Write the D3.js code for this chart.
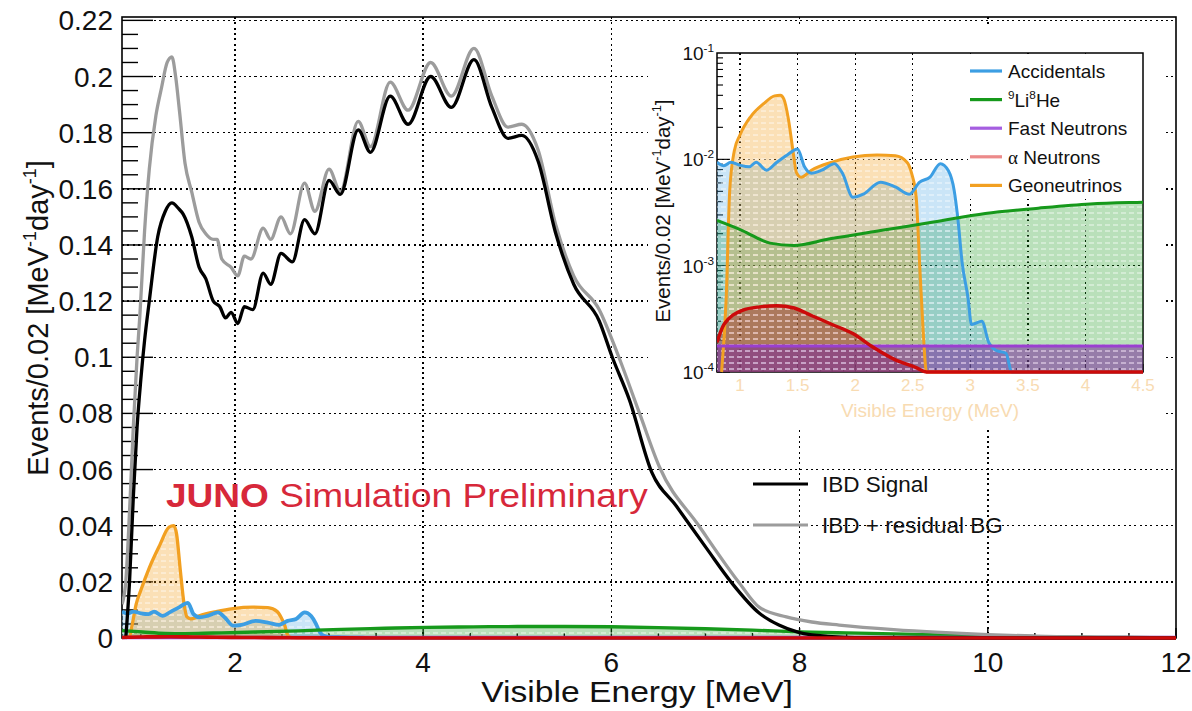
<!DOCTYPE html>
<html><head><meta charset="utf-8">
<script src="https://cdnjs.cloudflare.com/ajax/libs/d3/7.8.5/d3.min.js"></script>
<style>
body{margin:0;background:#fff}
svg{display:block}
text{font-family:"Liberation Sans",Arial,Helvetica,sans-serif;fill:#111}
</style>
</head><body>
<svg id="c" width="1192" height="711"></svg>
<script>
// ---------------- DATA ----------------
const ibdE = [0.84,0.88,0.92,0.96,1.00,1.04,1.09,1.18,1.26,1.33,1.40,1.45,1.54,1.62,1.69,1.77,1.84,1.90,1.96,2.03,2.10,2.19,2.30,2.38,2.49,2.61,2.74,2.85,3.00,3.12,3.31,3.44,3.65,3.84,4.08,4.30,4.54,4.73,4.90,5.05,5.22,5.41,5.60,5.87,6.01,6.19,6.43,6.69,7.01,7.28,7.57,7.78,7.99,8.3,8.7,9.5,12];
const ibdV = [0,0.02,0.05,0.075,0.092,0.106,0.120,0.143,0.152,0.155,0.153,0.151,0.143,0.132,0.128,0.120,0.118,0.114,0.116,0.112,0.118,0.117,0.130,0.126,0.137,0.134,0.149,0.144,0.163,0.158,0.181,0.173,0.193,0.183,0.200,0.189,0.206,0.189,0.178,0.179,0.170,0.144,0.126,0.113,0.100,0.085,0.059,0.047,0.032,0.0196,0.0089,0.0046,0.002,0.0006,0.0001,0,0];

const totE = [0.80,0.84,0.88,0.92,0.96,0.99,1.04,1.09,1.16,1.22,1.28,1.33,1.37,1.41,1.47,1.54,1.62,1.69,1.77,1.81,1.86,1.96,2.03,2.10,2.17,2.30,2.38,2.49,2.59,2.74,2.85,3.00,3.12,3.31,3.44,3.65,3.84,4.08,4.30,4.54,4.73,4.90,5.05,5.22,5.41,5.60,5.87,6.08,6.30,6.51,6.93,7.36,7.57,7.86,8.13,8.42,9.0,9.5,10.0,10.5,11.0,12.0];
const totV = [0.012,0.02,0.045,0.075,0.100,0.115,0.145,0.167,0.186,0.196,0.205,0.207,0.200,0.188,0.169,0.159,0.148,0.144,0.142,0.142,0.135,0.132,0.129,0.136,0.135,0.146,0.142,0.150,0.144,0.162,0.152,0.167,0.159,0.184,0.175,0.198,0.188,0.205,0.193,0.210,0.193,0.182,0.183,0.174,0.147,0.129,0.117,0.100,0.080,0.061,0.040,0.0196,0.011,0.0075,0.0057,0.0046,0.003,0.002,0.0012,0.0007,0.0003,0.0001];

const accE = [0.80,0.86,0.92,1.00,1.08,1.14,1.23,1.32,1.41,1.50,1.56,1.62,1.71,1.82,1.89,1.98,2.07,2.22,2.35,2.47,2.56,2.65,2.74,2.81,2.86,2.89,2.93,2.98,3.01,3.10,3.16,3.22,3.31,3.36,3.45,4.0,12];
const accV = [0.0094,0.0087,0.0094,0.0088,0.0085,0.0094,0.0079,0.0094,0.011,0.0125,0.0085,0.0074,0.0079,0.0091,0.0074,0.0044,0.0047,0.0061,0.0055,0.0047,0.0061,0.0068,0.0091,0.0078,0.0051,0.0029,0.00105,0.0005,0.00028,0.0003,0.00019,0.00016,0.00015,0.0001,0.00003,0.00001,0.000001];

const lihE = [0.8,1.02,1.26,1.47,1.77,2.22,2.68,3.13,3.59,4.04,4.53,5.0,5.5,6.0,6.5,7.0,7.5,8.0,8.5,9.0,9.5,10,10.5,11,11.5,12];
const lihV = [0.00266,0.00214,0.00163,0.00155,0.00178,0.00214,0.00257,0.0031,0.00347,0.0038,0.00396,0.0041,0.0041,0.0040,0.0037,0.0033,0.0028,0.0022,0.0018,0.0015,0.0011,0.0008,0.0005,0.0003,0.0002,0.0001];

const fastE = [0.8,12];
const fastV = [0.000176,0.000176];

const alphaE = [0.8,0.86,1.02,1.17,1.32,1.47,1.62,1.80,1.98,2.16,2.35,2.53,2.62,2.8,3.2,4.0,6.0,12];
const alphaV = [0.00019,0.00028,0.00038,0.00041,0.00042,0.0004,0.00034,0.00028,0.00023,0.00017,0.00013,0.00011,0.0001,0.00007,0.00004,0.00002,0.00001,0.000001];

const geoE = [0.84,0.88,0.91,0.95,1.00,1.09,1.20,1.30,1.35,1.38,1.42,1.46,1.49,1.53,1.62,1.80,1.98,2.19,2.35,2.45,2.49,2.53,2.56,2.59,2.62,2.7,12];
const geoV = [0.0001,0.0005,0.005,0.012,0.017,0.025,0.033,0.0395,0.040,0.037,0.024,0.012,0.0075,0.0068,0.0079,0.0094,0.0105,0.011,0.0108,0.0094,0.0074,0.0044,0.00104,0.00025,0.0001,0.00001,0.000001];

const mainXTicks = [2,4,6,8,10,12];
const mainXTickLabels = ["2","4","6","8","10","12"];
const mainYTicks = [0,0.02,0.04,0.06,0.08,0.1,0.12,0.14,0.16,0.18,0.2,0.22];
const mainYTickLabels = ["0","0.02","0.04","0.06","0.08","0.1","0.12","0.14","0.16","0.18","0.2","0.22"];
const insetXTicks = [1,1.5,2,2.5,3,3.5,4,4.5];
const insetXTickLabels = ["1","1.5","2","2.5","3","3.5","4","4.5"];
const insetYTicks = [1e-4,1e-3,1e-2,1e-1];
const insetYExps = ["-4","-3","-2","-1"];
const mainLegend = ["IBD Signal","IBD + residual BG"];

// ---------------- SETUP ----------------
const svg = d3.select("#c");
const defs = svg.append("defs");

const bg = [
  {key:"geo",  E:geoE,  V:geoV,  color:"#f2a021", lcolor:"#f2a021", op:0.33},
  {key:"acc",  E:accE,  V:accV,  color:"#3c9ee3", lcolor:"#3c9ee3", op:0.27},
  {key:"lih",  E:lihE,  V:lihV,  color:"#16991b", lcolor:"#16991b", op:0.30},
  {key:"fast", E:fastE, V:fastV, color:"#7a2a9a", lcolor:"#a55ee0", op:0.55},
  {key:"alpha",E:alphaE,V:alphaV,color:"#a01818", lcolor:"#ec8a8a", op:0.42}
];
const lineColor = {geo:"#f2a021", acc:"#3c9ee3", lih:"#16991b", fast:"#9a3fd0", alpha:"#cc0a0a"};
const fillOrder = ["lih","acc","geo","alpha","fast"];
const lineOrder = ["geo","acc","lih","fast"];
const byKey = k => bg.find(s => s.key === k);
const pts = s => s.E.map((e,i)=>[e, s.V[i]]);

bg.forEach(s=>{
  const p = defs.append("pattern").attr("id","pat-"+s.key)
    .attr("patternUnits","userSpaceOnUse").attr("width",8).attr("height",6);
  p.append("rect").attr("width",8).attr("height",6).attr("fill",s.color).attr("fill-opacity",s.op);
  p.append("line").attr("x1",1).attr("x2",6).attr("y1",3).attr("y2",3)
    .attr("stroke","#fff").attr("stroke-opacity",0.75).attr("stroke-width",1);
});

function rich(sel, parts, fs){
  let up = false;
  parts.forEach(p=>{
    const ts = sel.append("tspan").text(p.t);
    if (p.fam) ts.style("font-family", p.fam);
    if (p.sup){
      ts.attr("font-size", fs*0.62).attr("dy", up ? 0 : -fs*0.42);
      up = true;
    } else {
      ts.attr("font-size", fs).attr("dy", up ? fs*0.42 : 0);
      up = false;
    }
  });
}

// ---------------- MAIN PLOT ----------------
const M = {l:122, r:1176, t:17, b:638};
const x = d3.scaleLinear().domain([0.8,12]).range([M.l,M.r]);
const y = d3.scaleLinear().domain([0,0.2212]).range([M.b,M.t]);

defs.append("clipPath").attr("id","clipMain").append("rect")
  .attr("x",M.l).attr("y",M.t).attr("width",M.r-M.l).attr("height",M.b-M.t+4);

const grid = svg.append("g").attr("stroke","#000").attr("stroke-width",1.5)
  .attr("stroke-dasharray","2,3.3").attr("shape-rendering","crispEdges");
mainYTicks.filter(t=>t>0).forEach(t=>{
  grid.append("line").attr("x1",M.l).attr("x2",M.r).attr("y1",y(t)).attr("y2",y(t));
});
mainXTicks.filter(t=>t<12).forEach(t=>{
  grid.append("line").attr("x1",x(t)).attr("x2",x(t)).attr("y1",M.t).attr("y2",M.b);
});

// axes frame & ticks first, curves over them
const ax = svg.append("g").attr("stroke","#000");
ax.append("rect").attr("x",M.l).attr("y",M.t).attr("width",M.r-M.l).attr("height",M.b-M.t)
  .attr("fill","none").attr("stroke-width",1.6);
d3.range(0,0.2201,0.005).forEach((t,i)=>{
  const major = i%4===0;
  ax.append("line").attr("x1",M.l).attr("x2",M.l+(major?31:16)).attr("y1",y(t)).attr("y2",y(t))
    .attr("stroke-width",1.4);
});
d3.range(1,12.01,0.5).forEach(t=>{
  const major = mainXTicks.includes(t);
  ax.append("line").attr("x1",x(t)).attr("x2",x(t)).attr("y1",M.b).attr("y2",M.b-(major?10:5))
    .attr("stroke-width",1.4);
});

const gm = svg.append("g").attr("clip-path","url(#clipMain)");
const areaM = d3.area().x(d=>x(d[0])).y0(y(0)).y1(d=>y(d[1])).curve(d3.curveMonotoneX);
const lineM = d3.line().x(d=>x(d[0])).y(d=>y(d[1])).curve(d3.curveMonotoneX);
fillOrder.forEach(k=>{
  gm.append("path").attr("d",areaM(pts(byKey(k)))).attr("fill","url(#pat-"+k+")");
});
lineOrder.forEach(k=>{
  gm.append("path").attr("d",lineM(pts(byKey(k)))).attr("fill","none")
    .attr("stroke",lineColor[k]).attr("stroke-width", k==="acc"?3.8:3.3).attr("stroke-linejoin","round");
});
gm.append("path").attr("d",lineM(totE.map((e,i)=>[e,totV[i]]))).attr("fill","none")
  .attr("stroke","#9c9c9c").attr("stroke-width",3.3).attr("stroke-linejoin","round");
gm.append("path").attr("d",lineM(ibdE.map((e,i)=>[e,ibdV[i]]))).attr("fill","none")
  .attr("stroke","#000").attr("stroke-width",3.3).attr("stroke-linejoin","round");
gm.append("path").attr("d",lineM(pts(byKey("alpha")))).attr("fill","none")
  .attr("stroke",lineColor.alpha).attr("stroke-width",3.6);

mainYTicks.forEach((t,i)=>{
  svg.append("text").attr("x",113).attr("y",y(t)+10).attr("text-anchor","end")
    .attr("font-size",28).text(mainYTickLabels[i]);
});
mainXTicks.forEach((t,i)=>{
  svg.append("text").attr("x",x(t)).attr("y",672).attr("text-anchor","middle")
    .attr("font-size",28).text(mainXTickLabels[i]);
});
svg.append("text").attr("x",637).attr("y",702).attr("text-anchor","middle").attr("font-size",29.5)
  .attr("transform","translate(637,0) scale(1.14,1) translate(-637,0)")
  .text("Visible Energy [MeV]");
const yt = svg.append("text").attr("transform","translate(48,318) rotate(-90)").attr("text-anchor","middle");
rich(yt,[{t:"Events/0.02 [MeV"},{t:"-1",sup:true},{t:"day"},{t:"-1",sup:true},{t:"]"}],29);

// JUNO label
const ju = svg.append("text").attr("transform","translate(166,507) scale(1.09,1)").attr("font-size",34).style("fill","#d7283a");
ju.append("tspan").attr("font-weight","bold").style("fill","#d7283a").text("JUNO");
ju.append("tspan").style("fill","#d7283a").text(" Simulation Preliminary");

// main legend
[["#000",0],["#9c9c9c",1]].forEach(([c,i])=>{
  const yy = 484 + i*41;
  svg.append("line").attr("x1",753).attr("x2",808).attr("y1",yy).attr("y2",yy)
    .attr("stroke",c).attr("stroke-width",3.2);
  svg.append("text").attr("x",822).attr("y",yy+8).attr("font-size",22.5).text(mainLegend[i]);
});

// ---------------- INSET ----------------
svg.append("rect").attr("x",648).attr("y",26).attr("width",517).attr("height",402).attr("fill","#fff");
const I = {l:717, r:1143, t:53, b:372};
const xi = d3.scaleLinear().domain([0.8,4.5]).range([I.l,I.r]);
const yi = d3.scaleLog().domain([1e-4,1e-1]).range([I.b,I.t]).clamp(true);
defs.append("clipPath").attr("id","clipInset").append("rect")
  .attr("x",I.l).attr("y",I.t).attr("width",I.r-I.l).attr("height",I.b-I.t+3);

const gridI = svg.append("g").attr("stroke","#000").attr("stroke-width",1.3)
  .attr("stroke-dasharray","1.8,3.4").attr("shape-rendering","crispEdges");
[1e-3,1e-2].forEach(t=>gridI.append("line").attr("x1",I.l).attr("x2",I.r).attr("y1",yi(t)).attr("y2",yi(t)));
insetXTicks.filter(t=>t<4.5).forEach(t=>gridI.append("line").attr("x1",xi(t)).attr("x2",xi(t)).attr("y1",I.t).attr("y2",I.b));

const axI = svg.append("g").attr("stroke","#000");
axI.append("rect").attr("x",I.l).attr("y",I.t).attr("width",I.r-I.l).attr("height",I.b-I.t)
  .attr("fill","none").attr("stroke-width",1.5);
[1e-4,1e-3,1e-2].forEach(dec=>{
  d3.range(1,10).forEach(m=>{
    const v = dec*m;
    axI.append("line").attr("x1",I.l).attr("x2",I.l+(m===1?13:6)).attr("y1",yi(v)).attr("y2",yi(v)).attr("stroke-width",1.1);
  });
});
d3.range(0.8,4.501,0.1).forEach(t=>{
  const r = Math.round(t*10)/10;
  const major = Math.abs(r*2-Math.round(r*2))<1e-6;
  axI.append("line").attr("x1",xi(r)).attr("x2",xi(r)).attr("y1",I.b).attr("y2",I.b-(major?8:4)).attr("stroke-width",1);
});

const gi = svg.append("g").attr("clip-path","url(#clipInset)");
const areaI = d3.area().x(d=>xi(d[0])).y0(I.b).y1(d=>yi(d[1])).curve(d3.curveMonotoneX);
const lineI = d3.line().x(d=>xi(d[0])).y(d=>yi(d[1])).curve(d3.curveMonotoneX);
fillOrder.forEach(k=>{
  gi.append("path").attr("d",areaI(pts(byKey(k)))).attr("fill","url(#pat-"+k+")");
});
lineOrder.concat(["alpha"]).forEach(k=>{
  gi.append("path").attr("d",lineI(pts(byKey(k)))).attr("fill","none")
    .attr("stroke",lineColor[k]).attr("stroke-width",k==="alpha"?3.4:3).attr("stroke-linejoin","round");
});

// inset legend
svg.append("rect").attr("x",968).attr("y",I.t+1).attr("width",I.r-968-1).attr("height",145).attr("fill","#fff");
const legI = [
  {k:"acc", parts:[{t:"Accidentals"}]},
  {k:"lih", parts:[{t:"9",sup:true},{t:"Li"},{t:"8",sup:true},{t:"He"}]},
  {k:"fast", parts:[{t:"Fast Neutrons"}]},
  {k:"alpha", parts:[{t:"\u03b1",fam:'"Liberation Serif","Times New Roman",serif'},{t:" Neutrons"}]},
  {k:"geo", parts:[{t:"Geoneutrinos"}]}
];
legI.forEach((e,i)=>{
  const yy = 71 + i*28.6;
  svg.append("line").attr("x1",970).attr("x2",1002).attr("y1",yy).attr("y2",yy)
    .attr("stroke",byKey(e.k).lcolor).attr("stroke-width",3.2);
  const t = svg.append("text").attr("x",1008).attr("y",yy+7);
  rich(t,e.parts,19);
});

insetYTicks.forEach((t,i)=>{
  const tx = svg.append("text").attr("x",714).attr("y",yi(t)+7).attr("text-anchor","end");
  rich(tx,[{t:"10"},{t:insetYExps[i],sup:true}],19);
});
insetXTicks.forEach((t,i)=>{
  svg.append("text").attr("x",xi(t)).attr("y",391).attr("text-anchor","middle").attr("font-size",17)
    .style("fill","#f8dbb2").text(insetXTickLabels[i]);
});
svg.append("text").attr("x",930).attr("y",417).attr("text-anchor","middle").attr("font-size",19)
  .style("fill","#f8dbb2").text("Visible Energy (MeV)");
const yti = svg.append("text").attr("transform","translate(670,211) rotate(-90)").attr("text-anchor","middle");
rich(yti,[{t:"Events/0.02 [MeV"},{t:"-1",sup:true},{t:"day"},{t:"-1",sup:true},{t:"]"}],20.5);
</script>
</body></html>
